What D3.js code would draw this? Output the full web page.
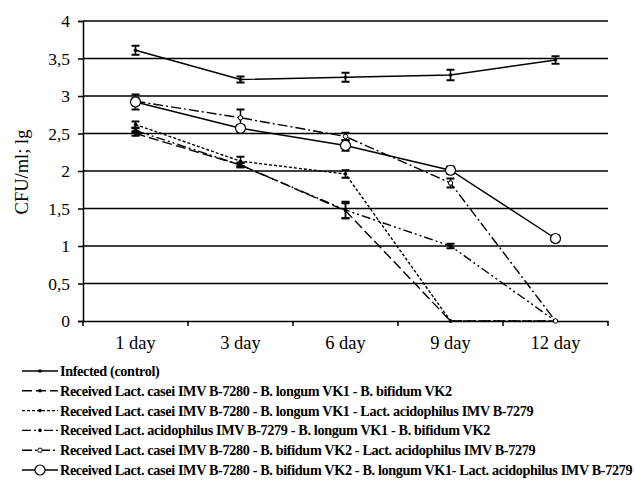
<!DOCTYPE html>
<meta charset="utf-8">
<style>
body { margin: 0; background: #fff; }
svg text { font-family: "Liberation Serif", "Times New Roman", serif; fill: #000; }
</style>
<body>
<div id="chart"></div>
<script src="https://cdn.jsdelivr.net/npm/d3@7"></script>
<script>

// data
var days = ["1 day", "3 day", "6 day", "9 day", "12 day"];
var yTicks = [0, 0.5, 1, 1.5, 2, 2.5, 3, 3.5, 4];

var seriesNames = [
  "Infected (control)",
  "Received Lact. casei IMV B-7280 - B. longum VK1 - B. bifidum VK2",
  "Received Lact. casei IMV B-7280 - B. longum VK1 - Lact. acidophilus IMV B-7279",
  "Received Lact. acidophilus IMV B-7279 - B. longum VK1 - B. bifidum VK2",
  "Received Lact. casei IMV B-7280 - B. bifidum VK2 - Lact. acidophilus IMV B-7279",
  "Received Lact. casei IMV B-7280 - B. bifidum VK2 - B. longum VK1- Lact. acidophilus IMV B-7279"
];

var control   = [3.61, 3.22, 3.25, 3.28, 3.48];
var caseiLongBif  = [2.50, 2.08, 1.47, 0, 0];
var caseiLongAcid = [2.62, 2.13, 1.96, 0, 0];
var acidLongBif   = [2.54, 2.08, 1.48, 1.00, 0];
var caseiBifAcid  = [2.93, 2.71, 2.46, 1.84, 0];
var caseiBifLongAcid = [2.92, 2.57, 2.34, 2.01, 1.10];

var controlErr   = [0.06, 0.04, 0.06, 0.07, 0.05];
var caseiLongBifErr  = [0.03, 0.03, 0.10, 0, 0];
var caseiLongAcidErr = [0.04, 0.06, 0.05, 0, 0];
var acidLongBifErr   = [0.03, 0.03, 0.11, 0.03, 0];
var caseiBifAcidErr  = [0.04, 0.11, 0.05, 0.06, 0];
var caseiBifLongAcidErr = [0.10, 0.04, 0.07, 0.05, 0.04];

var allValues = [control, caseiLongBif, caseiLongAcid, acidLongBif, caseiBifAcid, caseiBifLongAcid];
var allErrors = [controlErr, caseiLongBifErr, caseiLongAcidErr, acidLongBifErr, caseiBifAcidErr, caseiBifLongAcidErr];

// look of each series
var dashes  = [null, "10,4", "3,2", "9,3,2,3,2,3", "10,3,2,3", null];
var markers = ["dot", "dot", "dot", "dot", "smallcircle", "circle"];

var width = 635, height = 482;
var margin = {top: 21, left: 83, right: 27, bottom: 161};

var svg = d3.select("#chart").append("svg")
  .attr("width", width)
  .attr("height", height);

var x = d3.scaleBand()
  .domain(days)
  .range([margin.left, width - margin.right]);

var y = d3.scaleLinear()
  .domain([0, 4])
  .range([height - margin.bottom, margin.top]);

// grid lines
svg.append("g").selectAll("line")
  .data(yTicks.filter(function(d){ return d > 0; }))
  .join("line")
  .attr("x1", margin.left).attr("x2", width - margin.right)
  .attr("y1", function(d){ return y(d); }).attr("y2", function(d){ return y(d); })
  .attr("stroke", "#000").attr("stroke-width", 1.6);

// y axis
var fmt = function(d){ return String(d).replace(".", ","); };
var yAxis = svg.append("g")
  .attr("transform", "translate(" + margin.left + ",0)")
  .call(d3.axisLeft(y).tickValues(yTicks).tickFormat(fmt).tickSize(5).tickPadding(8));
yAxis.attr("font-family", null).attr("font-size", null);
yAxis.select(".domain").attr("stroke-width", 1.5);
yAxis.selectAll(".tick line").attr("stroke-width", 1.5);
yAxis.selectAll("text").attr("font-size", 17.5);

// x axis, ticks on band edges
var xAxis = svg.append("g")
  .attr("transform", "translate(0," + y(0) + ")")
  .call(d3.axisBottom(x).tickSize(0).tickPadding(15));
xAxis.attr("font-family", null).attr("font-size", null);
xAxis.select(".domain").attr("stroke-width", 1.5);
xAxis.selectAll("text").attr("font-size", 18.5);
svg.append("g").selectAll("line")
  .data(days.concat(["end"]))
  .join("line")
  .attr("x1", function(d, i){ return margin.left + i * x.bandwidth(); })
  .attr("x2", function(d, i){ return margin.left + i * x.bandwidth(); })
  .attr("y1", y(0)).attr("y2", y(0) + 5)
  .attr("stroke", "#000").attr("stroke-width", 1.5);

// y label
svg.append("text")
  .attr("transform", "translate(28," + (y(2) + 1) + ") rotate(-90)")
  .attr("text-anchor", "middle")
  .attr("font-size", 18.5)
  .text("CFU/ml; lg");

var line = d3.line()
  .x(function(d, i){ return x(days[i]) + x.bandwidth() / 2; })
  .y(function(d){ return y(d); });

function drawMarker(g, type, cx, cy) {
  if (type === "circle") {
    g.append("circle").attr("cx", cx).attr("cy", cy).attr("r", 5)
      .attr("fill", "#fff").attr("stroke", "#000").attr("stroke-width", 1.2);
  } else if (type === "smallcircle") {
    g.append("circle").attr("cx", cx).attr("cy", cy).attr("r", 2.2)
      .attr("fill", "#fff").attr("stroke", "#000").attr("stroke-width", 1);
  } else {
    g.append("circle").attr("cx", cx).attr("cy", cy).attr("r", 1.8).attr("fill", "#000");
  }
}

allValues.forEach(function(vals, s) {
  var g = svg.append("g");
  g.append("path")
    .attr("d", line(vals))
    .attr("fill", "none")
    .attr("stroke", "#000")
    .attr("stroke-width", 1.4)
    .attr("stroke-dasharray", dashes[s]);

  vals.forEach(function(v, i) {
    var cx = x(days[i]) + x.bandwidth() / 2;
    var e = allErrors[s][i];
    if (e > 0) {
      var top = y(v + e), bot = y(v - e);
      g.append("line").attr("x1", cx).attr("x2", cx).attr("y1", top).attr("y2", bot)
        .attr("stroke", "#000").attr("stroke-width", 1.5);
      [top, bot].forEach(function(yy) {
        g.append("line").attr("x1", cx - 4).attr("x2", cx + 4).attr("y1", yy).attr("y2", yy)
          .attr("stroke", "#000").attr("stroke-width", 2);
      });
    }
    drawMarker(g, markers[s], cx, y(v));
  });
});

// legend
var legend = svg.append("g");
seriesNames.forEach(function(name, s) {
  var ly = 371 + s * 19.8;
  var row = legend.append("g");
  row.append("line")
    .attr("x1", 22).attr("x2", 58).attr("y1", ly).attr("y2", ly)
    .attr("stroke", "#000").attr("stroke-width", 1.4)
    .attr("stroke-dasharray", dashes[s]);
  drawMarker(row, markers[s], 40, ly);
  row.append("text")
    .attr("x", 60).attr("y", ly + 5)
    .attr("font-size", 14.2)
    .attr("font-weight", "bold")
    .attr("letter-spacing", -0.35)
    .text(name);
});

</script>
</body>
